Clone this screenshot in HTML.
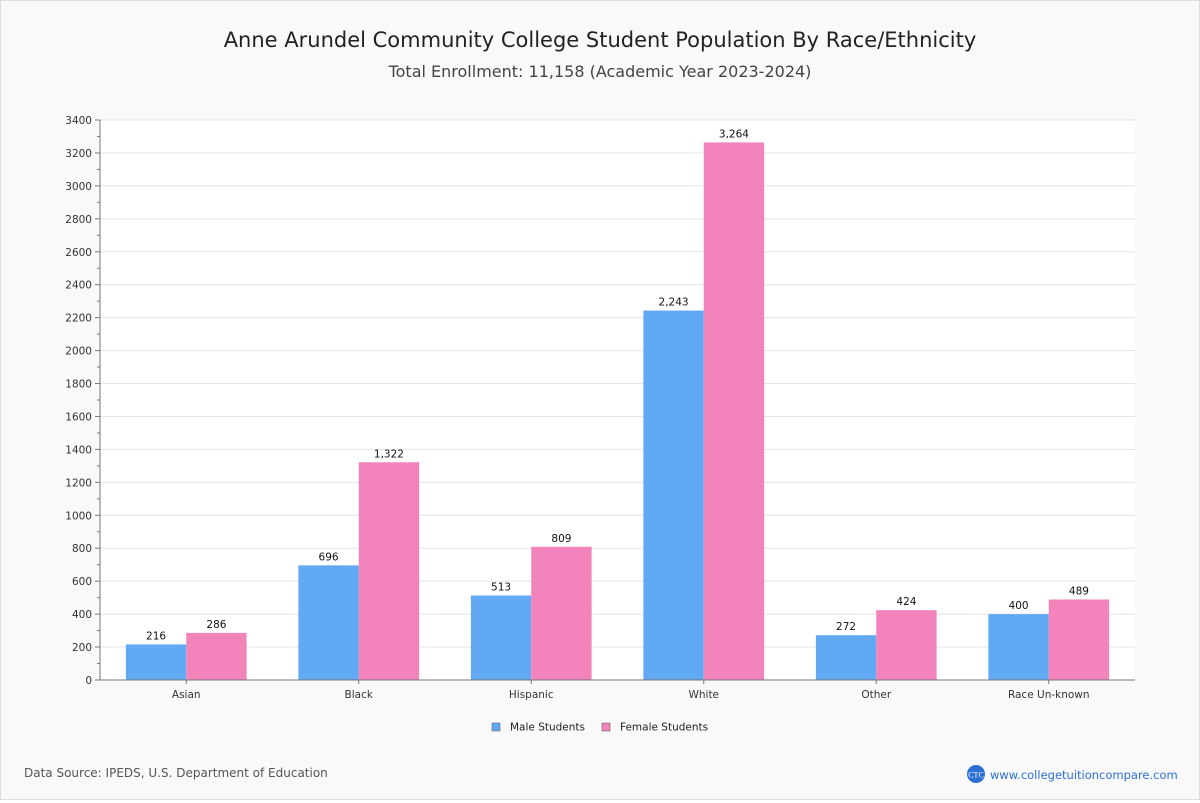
<!DOCTYPE html>
<html><head><meta charset="utf-8"><style>
body{margin:0;background:#fff;}
#wrap{position:relative;width:1198px;height:798px;border:1px solid #ddd;background:#f9f9f9;font-family:"DejaVu Sans","Liberation Sans",sans-serif;}
</style></head><body>
<div id="wrap">
<svg id="chart" width="1198" height="798" xmlns="http://www.w3.org/2000/svg" font-family="DejaVu Sans, Liberation Sans, sans-serif">
<text x="599" y="46" text-anchor="middle" font-size="21" fill="#222">Anne Arundel Community College Student Population By Race/Ethnicity</text>
<text x="599" y="76" text-anchor="middle" font-size="16" fill="#444">Total Enrollment: 11,158 (Academic Year 2023-2024)</text>
<rect x="99" y="119" width="1035" height="560" fill="#fff"/>
<g id="grid"></g><g id="bars"></g><g id="axes"></g>
<g>
<rect x="491" y="722" width="8" height="8" fill="#62a9f4" stroke="#555" stroke-width="0.5"/>
<text x="509" y="729.5" font-size="10.5" fill="#222">Male Students</text>
<rect x="601" y="722" width="8" height="8" fill="#f283bb" stroke="#555" stroke-width="0.5"/>
<text x="619" y="729.5" font-size="10.5" fill="#222">Female Students</text>
</g>
<text x="23" y="776" font-size="12" fill="#555">Data Source: IPEDS, U.S. Department of Education</text>
<g>
<circle cx="975" cy="773" r="9" fill="#2e6fd6"/>
<text x="975" y="776.5" text-anchor="middle" font-size="8" fill="#fff" font-family="Liberation Serif, serif">CTC</text>
<text x="989" y="778" font-size="11.5" fill="#2e6fd6">www.collegetuitioncompare.com</text>
</g>
</svg>
</div>
<script>
const categories=["Asian","Black","Hispanic","White","Other","Race Un-known"];
const maleValues=[216,696,513,2243,272,400];
const femaleValues=[286,1322,809,3264,424,489];
const yTicks=[0,200,400,600,800,1000,1200,1400,1600,1800,2000,2200,2400,2600,2800,3000,3200,3400];
const NS="http://www.w3.org/2000/svg";
const X0=99,X1=1134,Y0=679,Y1=119,YMAX=3400;
const yScale=v=>Y0-(Y0-Y1)*v/YMAX;
const band=(X1-X0)/categories.length;
const xCenter=i=>X0+band*(i+0.5);
const bw=band*0.35;
function mk(tag,attrs,parent){const e=document.createElementNS(NS,tag);for(const k in attrs)e.setAttribute(k,attrs[k]);parent.appendChild(e);return e;}
const grid=document.getElementById('grid'),bars=document.getElementById('bars'),axes=document.getElementById('axes');
yTicks.forEach(t=>{
 const y=yScale(t);
 if(t>0){const g=mk('line',{x1:X0,x2:X1,y1:y,y2:y,stroke:'#e3e3e3'},grid);
 
 }
 mk('line',{x1:X0-5,x2:X0,y1:y,y2:y,stroke:'#777'},axes);
 const mid=yScale(t+100);
 if(t<YMAX)mk('line',{x1:X0-3,x2:X0,y1:mid,y2:mid,stroke:'#777'},axes);
 const l=mk('text',{x:X0-8,y:y+4,'text-anchor':'end','font-size':10.5,fill:'#333'},axes);
 l.textContent=t;
 
 
});
mk('line',{x1:X0,x2:X0,y1:Y1,y2:Y0,stroke:'#777'},axes);
mk('line',{x1:X0,x2:X1,y1:Y0,y2:Y0,stroke:'#777'},axes);
const fmt=v=>v.toLocaleString('en-US');
categories.forEach((c,i)=>{
 const cx=xCenter(i);
 [[maleValues[i],'#62a9f4',cx-bw,'bar-male'],[femaleValues[i],'#f283bb',cx,'bar-female']].forEach(([v,col,x,nm])=>{
  const y=yScale(v);
  const r=mk('rect',{x:x,y:y,width:bw,height:Y0-y,fill:col},bars);
  
  
  const t=mk('text',{x:x+bw/2,y:y-5,'text-anchor':'middle','font-size':10.5,fill:'#111'},bars);
  t.textContent=fmt(v);
  
  
 });
 mk('line',{x1:cx,x2:cx,y1:Y0,y2:Y0+4,stroke:'#777'},axes);
 const l=mk('text',{x:cx,y:Y0+18,'text-anchor':'middle','font-size':10.5,fill:'#333'},axes);
 l.textContent=c;
 
 
});
</script>
</body></html>
